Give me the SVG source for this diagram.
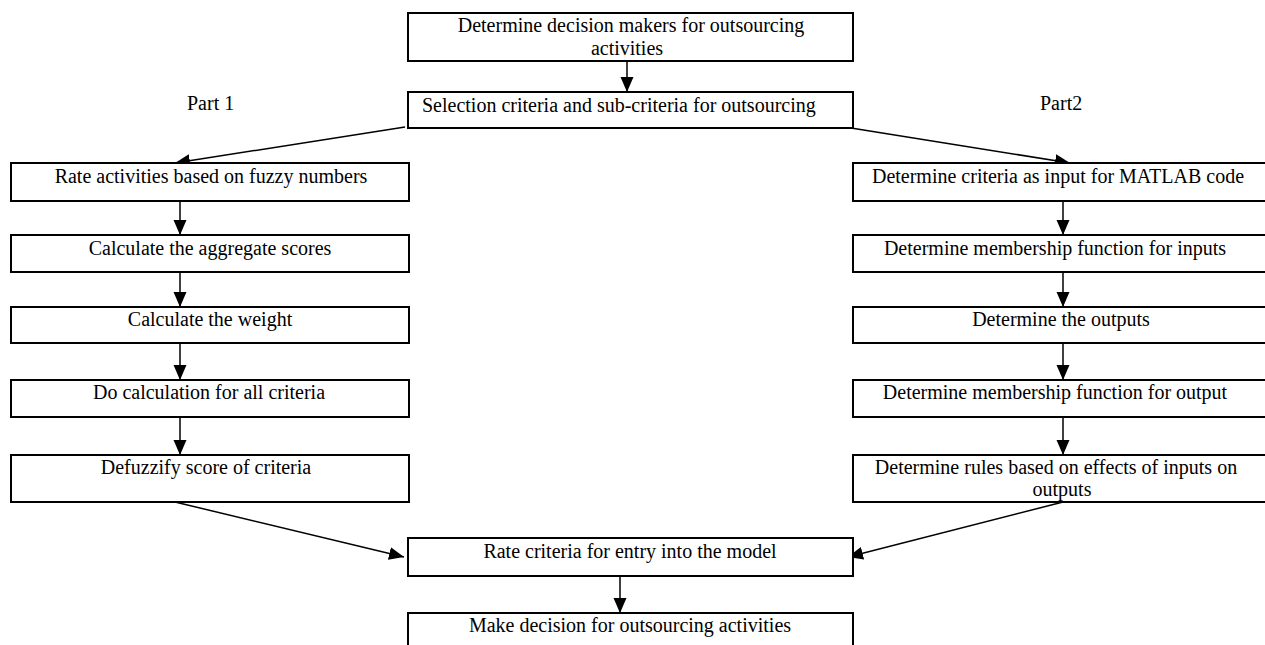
<svg xmlns="http://www.w3.org/2000/svg" width="1265" height="645" viewBox="0 0 1265 645">
<style>
.box{fill:#fff;stroke:#000;stroke-width:2}
.t{font-family:"Liberation Serif","Times New Roman",serif;font-size:20px;fill:#000}
.c{text-anchor:middle}
.ln{stroke:#000;stroke-width:1.5;fill:none;marker-end:url(#ah)}
</style>
<defs>
<marker id="ah" markerUnits="userSpaceOnUse" markerWidth="15" markerHeight="14" refX="15" refY="7" orient="auto">
<path d="M0,0.5 L15,7 L0,13.5 Z" fill="#000"/>
</marker>
</defs>
<rect width="1265" height="645" fill="#fff"/>
<g id="connectors">
<line class="ln" x1="627" y1="58" x2="627" y2="92"/>
<line class="ln" x1="405" y1="127" x2="175" y2="163"/>
<line class="ln" x1="851" y1="128" x2="1070" y2="163"/>
<line class="ln" x1="180" y1="201" x2="180" y2="235"/>
<line class="ln" x1="180" y1="272" x2="180" y2="307"/>
<line class="ln" x1="180" y1="343" x2="180" y2="380"/>
<line class="ln" x1="180" y1="417" x2="180" y2="455"/>
<line class="ln" x1="1063" y1="201" x2="1063" y2="235"/>
<line class="ln" x1="1063" y1="272" x2="1063" y2="307"/>
<line class="ln" x1="1063" y1="343" x2="1063" y2="380"/>
<line class="ln" x1="1063" y1="417" x2="1063" y2="455"/>
<line class="ln" x1="175" y1="502" x2="404" y2="557"/>
<line class="ln" x1="1063" y1="502" x2="848" y2="557"/>
<line class="ln" x1="620" y1="576" x2="620" y2="613"/>
</g>
<g id="n_top"><rect class="box" x="408" y="13" width="445" height="48"/>
<text class="t c" x="631" y="32">Determine decision makers for outsourcing</text>
<text class="t c" x="627" y="55">activities</text></g>
<g id="n_sel"><rect class="box" x="408" y="92" width="445" height="36"/>
<text class="t" x="422" y="112">Selection criteria and sub-criteria for outsourcing</text></g>
<g id="lbl_part1"><text class="t" x="187" y="110">Part 1</text></g>
<g id="lbl_part2"><text class="t" x="1040" y="110">Part2</text></g>
<g id="n_l1"><rect class="box" x="11" y="163" width="398" height="38"/><text class="t c" x="211" y="183">Rate activities based on fuzzy numbers</text></g>
<g id="n_l2"><rect class="box" x="11" y="235" width="398" height="37"/><text class="t c" x="210" y="255">Calculate the aggregate scores</text></g>
<g id="n_l3"><rect class="box" x="11" y="307" width="398" height="36"/><text class="t c" x="210" y="326">Calculate the weight</text></g>
<g id="n_l4"><rect class="box" x="11" y="380" width="398" height="37"/><text class="t c" x="209" y="399">Do calculation for all criteria</text></g>
<g id="n_l5"><rect class="box" x="11" y="455" width="398" height="47"/><text class="t c" x="206" y="474">Defuzzify score of criteria</text></g>
<g id="n_r1"><rect class="box" x="853" y="163" width="420" height="38"/><text class="t c" x="1058" y="183">Determine criteria as input for MATLAB code</text></g>
<g id="n_r2"><rect class="box" x="853" y="235" width="420" height="37"/><text class="t c" x="1055" y="255">Determine membership function for inputs</text></g>
<g id="n_r3"><rect class="box" x="853" y="307" width="420" height="36"/><text class="t c" x="1061" y="326">Determine the outputs</text></g>
<g id="n_r4"><rect class="box" x="853" y="380" width="420" height="37"/><text class="t c" x="1055" y="399">Determine membership function for output</text></g>
<g id="n_r5"><rect class="box" x="853" y="455" width="420" height="47"/><text class="t c" x="1056" y="474">Determine rules based on effects of inputs on</text><text class="t c" x="1062" y="496">outputs</text></g>
<g id="n_rate"><rect class="box" x="408" y="538" width="445" height="38"/><text class="t c" x="630" y="558">Rate criteria for entry into the model</text></g>
<g id="n_make"><rect class="box" x="408" y="613" width="445" height="45"/><text class="t c" x="630" y="632">Make decision for outsourcing activities</text></g>
</svg>
